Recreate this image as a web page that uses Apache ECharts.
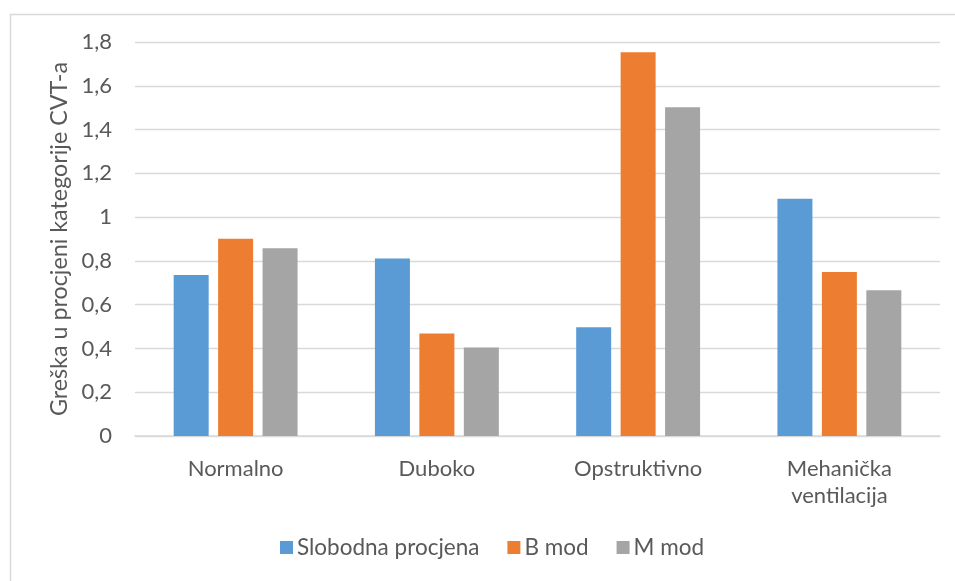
<!DOCTYPE html>
<html>
<head>
<meta charset="utf-8">
<script src="https://cdn.jsdelivr.net/npm/echarts@6/dist/echarts.min.js"></script>
<style>html,body{margin:0;padding:0;background:#fff;}#c{width:955px;height:581px;}</style>
</head>
<body>
<div id="c"></div>
<script>
const categories = ['Normalno', 'Duboko', 'Opstruktivno', 'Mehanička\nventilacija'];
const seriesNames = ['Slobodna procjena', 'B mod', 'M mod'];
const slobodna = [0.736, 0.811, 0.497, 1.084];
const bMod = [0.901, 0.468, 1.753, 0.749];
const mMod = [0.858, 0.404, 1.502, 0.666];
const yTicks = [0, 0.2, 0.4, 0.6, 0.8, 1, 1.2, 1.4, 1.6, 1.8];
const yTitle = 'Greška u procjeni kategorije CVT-a';
const colors = ['#5b9bd5', '#ed7d31', '#a5a5a5'];

const font = 'Lato, "Open Sans", sans-serif';
const chart = echarts.init(document.getElementById('c'), null, {renderer: 'canvas'});
const values = [slobodna, bMod, mMod];
chart.setOption({
  animation: false,
  backgroundColor: '#ffffff',
  color: colors,
  graphic: [{
    type: 'rect', left: 8, top: 12, silent: true,
    shape: {width: 1000, height: 1000},
    style: {fill: 'none', stroke: '#d9d9d9', lineWidth: 1.5}
  }],
  grid: {left: 135, right: 15, top: 42, bottom: 145, containLabel: false},
  legend: {
    bottom: 17, left: 275, itemWidth: 13, itemHeight: 13, itemGap: 28,
    icon: 'rect',
    textStyle: {color: '#595959', fontSize: 22.5, fontFamily: font, padding: [0, 0, 0, -1]},
    data: seriesNames
  },
  xAxis: {
    type: 'category', data: categories,
    axisLine: {lineStyle: {color: '#d9d9d9', width: 1.5}},
    axisTick: {show: false},
    axisLabel: {color: '#595959', fontSize: 22, fontFamily: font, margin: 19, lineHeight: 27, interval: 0}
  },
  yAxis: {
    type: 'value', min: 0, max: 1.8, interval: 0.2,
    name: yTitle, nameLocation: 'middle', nameGap: 62, nameRotate: 90,
    nameTextStyle: {color: '#595959', fontSize: 23.3, fontFamily: font},
    axisLine: {show: false}, axisTick: {show: false},
    splitLine: {lineStyle: {color: '#d9d9d9', width: 1.3}},
    axisLabel: {color: '#595959', fontSize: 22, fontFamily: font, margin: 23,
      formatter: v => {
        const t = yTicks.find(x => Math.abs(x - v) < 1e-9);
        return (t === undefined ? v : t).toString().replace('.', ',');
      }}
  },
  series: seriesNames.map((n, i) => ({
    name: n, type: 'bar', data: values[i], barWidth: 35, barGap: '27%',
    itemStyle: {color: colors[i]}
  }))
});
</script>
</body>
</html>
